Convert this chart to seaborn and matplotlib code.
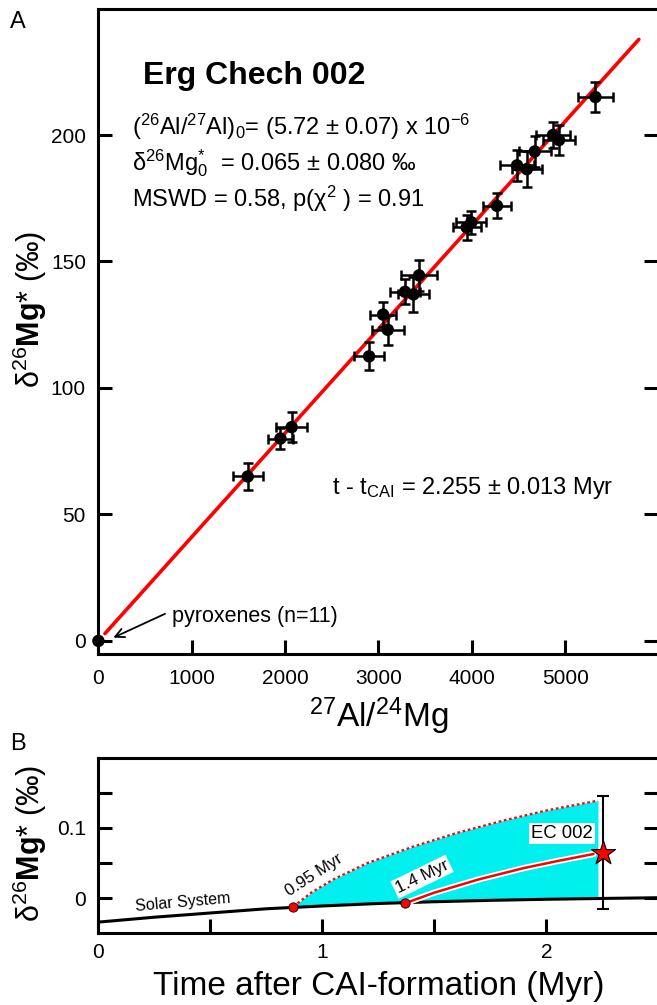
import matplotlib
matplotlib.use("Agg")
import matplotlib.pyplot as plt
import matplotlib.patheffects as pe
import seaborn as sns

# Panel A: Al-Mg isochron of Erg Chech 002
al_mg = [1600, 1950, 2070, 2900, 3100, 3050, 3285, 3375, 3435,
         3945, 3995, 4270, 4485, 4590, 4675, 4870, 4935, 5325]
d26mg = [65, 80, 84.5, 112.5, 123, 129, 138, 137, 144.5,
         163.5, 165.5, 172, 188, 186.5, 193.5, 200, 198, 215]
al_mg_err = [160, 130, 170, 160, 170, 140, 160, 170, 190,
             150, 160, 150, 180, 160, 170, 180, 170, 190]
d26mg_err = [5.5, 4, 6, 5.5, 6, 5, 5, 7, 6,
             5, 4.5, 5, 6, 7, 6, 5, 6, 6]
pyx_x = [0]
pyx_y = [0]
fit_x = [70, 5790]
fit_y = [2.9, 237.8]

# Panel B: evolution of d26Mg* with time
ss_t = [0, 0.25, 0.5, 0.75, 1.0, 1.25, 1.5, 1.75, 2.0, 2.25, 2.5]
ss_d = [-0.034, -0.027, -0.021, -0.015, -0.011, -0.0075, -0.005, -0.003, -0.0015, -0.0003, 0.0007]
hi_t = [0.87, 0.95, 1.05, 1.2, 1.4, 1.6, 1.8, 2.0, 2.23]
hi_d = [-0.012, 0.008, 0.027, 0.050, 0.073, 0.093, 0.110, 0.125, 0.139]
hi_base = [-0.012, -0.0105, -0.0095, -0.008, -0.006, -0.0045, -0.0028, -0.0015, -0.0004]
lo_t = [1.37, 1.5, 1.7, 1.9, 2.05, 2.21]
lo_d = [-0.007, 0.008, 0.027, 0.043, 0.053, 0.063]
start_t = [0.87, 1.37]
start_d = [-0.012, -0.0065]
ec_t = [2.251]
ec_d = [0.065]
ec_err = [0.080]

sns.set_theme(style="white")
plt.rcParams['font.family'] = ['Liberation Sans', 'DejaVu Sans']
plt.rcParams['mathtext.fontset'] = 'custom'
plt.rcParams['mathtext.rm'] = 'Liberation Sans'
plt.rcParams['mathtext.it'] = 'Liberation Sans:italic'
plt.rcParams['mathtext.bf'] = 'Liberation Sans:bold'
plt.rcParams['mathtext.default'] = 'regular'
plt.rcParams['text.color'] = 'black'
plt.rcParams['axes.labelcolor'] = 'black'
plt.rcParams['xtick.color'] = 'black'
plt.rcParams['ytick.color'] = 'black'

fig = plt.figure(figsize=(6.57, 10.05), dpi=100)
axA = fig.add_axes([0.1498, 0.3497, 0.8524, 0.6418])
axB = fig.add_axes([0.1498, 0.0713, 0.8524, 0.1747])

ylab = r"δ$^{26}$$\mathbf{Mg}$* (‰)"

# ---- panel A ----
sns.lineplot(x=fit_x, y=fit_y, ax=axA, color='red', lw=2.6, zorder=2)
axA.errorbar(al_mg, d26mg, xerr=al_mg_err, yerr=d26mg_err, fmt='none',
             ecolor='black', elinewidth=1.8, capsize=3.5, capthick=1.8, zorder=3)
sns.scatterplot(x=al_mg, y=d26mg, ax=axA, color='black', s=80,
                edgecolor='none', zorder=4, legend=False)
sns.scatterplot(x=pyx_x, y=pyx_y, ax=axA, color='black', s=80,
                edgecolor='none', zorder=4, legend=False, clip_on=False)

axA.set_xlim(0, 6000)
axA.set_ylim(-5, 250)
axA.set_xticks([0, 1000, 2000, 3000, 4000, 5000])
axA.set_yticks([0, 50, 100, 150, 200])

axA.text(475, 220, "Erg Chech 002", fontsize=23, fontweight='bold')
axA.text(360, 200, r"($^{26}$Al/$^{27}$Al)$_0$= (5.72 ± 0.07) x 10$^{-6}$", fontsize=17)
axA.text(360, 186, r"δ$^{26}$Mg$^{*}_{0}$  = 0.065 ± 0.080 ‰", fontsize=17)
axA.text(360, 171.5, r"MSWD = 0.58, p(χ$^{2}$ ) = 0.91", fontsize=17)
axA.text(2506, 58, r"t - t$_{CAI}$ = 2.255 ± 0.013 Myr", fontsize=17)
axA.text(785, 7.6, "pyroxenes (n=11)", fontsize=15.5)
axA.annotate("", xy=(160, 1.3), xytext=(713, 10.7),
             arrowprops=dict(arrowstyle='->', lw=1.3, color='black',
                             shrinkA=0, shrinkB=0, mutation_scale=16))

axA.set_xlabel(r"$^{27}$Al/$^{24}$Mg", fontsize=24)
axA.xaxis.label.set_va('baseline')
axA.xaxis.set_label_coords(0.5, -0.1138)
axA.set_ylabel(ylab, fontsize=22)
axA.yaxis.label.set_va('center')
axA.yaxis.set_label_coords(-0.122, 0.533)

# ---- panel B ----
axB.fill_between(hi_t, hi_base, hi_d, color='#00F0F0', lw=0, zorder=1)
sns.lineplot(x=ss_t, y=ss_d, ax=axB, color='black', lw=2.2, zorder=3)
sns.lineplot(x=hi_t, y=hi_d, ax=axB, color='red', lw=1.6,
             linestyle=(0, (1.2, 1.2)), zorder=3)
sns.lineplot(x=lo_t, y=lo_d, ax=axB, color='red', lw=1.8, zorder=3,
             path_effects=[pe.Stroke(linewidth=4.5, foreground='white'), pe.Normal()])
axB.errorbar(ec_t, ec_d, yerr=ec_err, fmt='none', ecolor='black',
             elinewidth=1.5, capsize=4, capthick=1.5, zorder=4)
sns.scatterplot(x=start_t, y=start_d, ax=axB, color='red', edgecolor='black',
                linewidth=0.6, s=45, zorder=5, legend=False)
sns.scatterplot(x=ec_t, y=ec_d, ax=axB, color='red', edgecolor='black',
                linewidth=0.8, s=330, marker='*', zorder=6, legend=False)

axB.text(0.378, -0.0052, "Solar System", fontsize=11.5, rotation=5,
         ha='center', va='center')
axB.text(0.851, 0.0023, "0.95 Myr", fontsize=12, rotation=33,
         rotation_mode='anchor', ha='left', va='baseline')
axB.text(1.339, 0.007, "1.4 Myr", fontsize=12.3, rotation=26,
         rotation_mode='anchor', ha='left', va='baseline',
         bbox=dict(boxstyle='square,pad=0.12', fc='white', ec='none'))
axB.text(2.07, 0.092, "EC 002", fontsize=13.3, ha='center', va='center',
         bbox=dict(boxstyle='square,pad=0.12', fc='white', ec='none'))

axB.set_xlim(0, 2.5)
axB.set_ylim(-0.05, 0.2)
axB.set_xticks([0, 1, 2])
axB.set_xticklabels(['0', '1', '2'])
axB.set_xticks([0.5, 1.5], minor=True)
axB.set_yticks([0, 0.1])
axB.set_yticklabels(['0', '0.1'])
axB.set_yticks([0.05, 0.15], minor=True)

axB.set_xlabel("Time after CAI-formation (Myr)", fontsize=24)
axB.xaxis.label.set_va('baseline')
axB.xaxis.set_label_coords(0.5, -0.351)
axB.set_ylabel(ylab, fontsize=22)
axB.yaxis.label.set_va('center')
axB.yaxis.set_label_coords(-0.122, 0.514)

for ax in (axA, axB):
    for s in ax.spines.values():
        s.set_linewidth(2.2)
        s.set_color('black')
    ax.tick_params(which='both', direction='in', length=10, width=2.2,
                   labelsize=15, left=True, right=True, top=False, bottom=True)
axA.tick_params(axis='x', pad=11)
axA.tick_params(axis='y', pad=9)
axB.tick_params(axis='x', which='both', pad=7)
axB.tick_params(axis='y', which='both', pad=9)

fig.text(10 / 657, 1 - 28 / 1005, "A", fontsize=17, va='baseline')
fig.text(10.5 / 657, 1 - 750 / 1005, "B", fontsize=17, va='baseline')

fig.savefig("out.png", dpi=100)
